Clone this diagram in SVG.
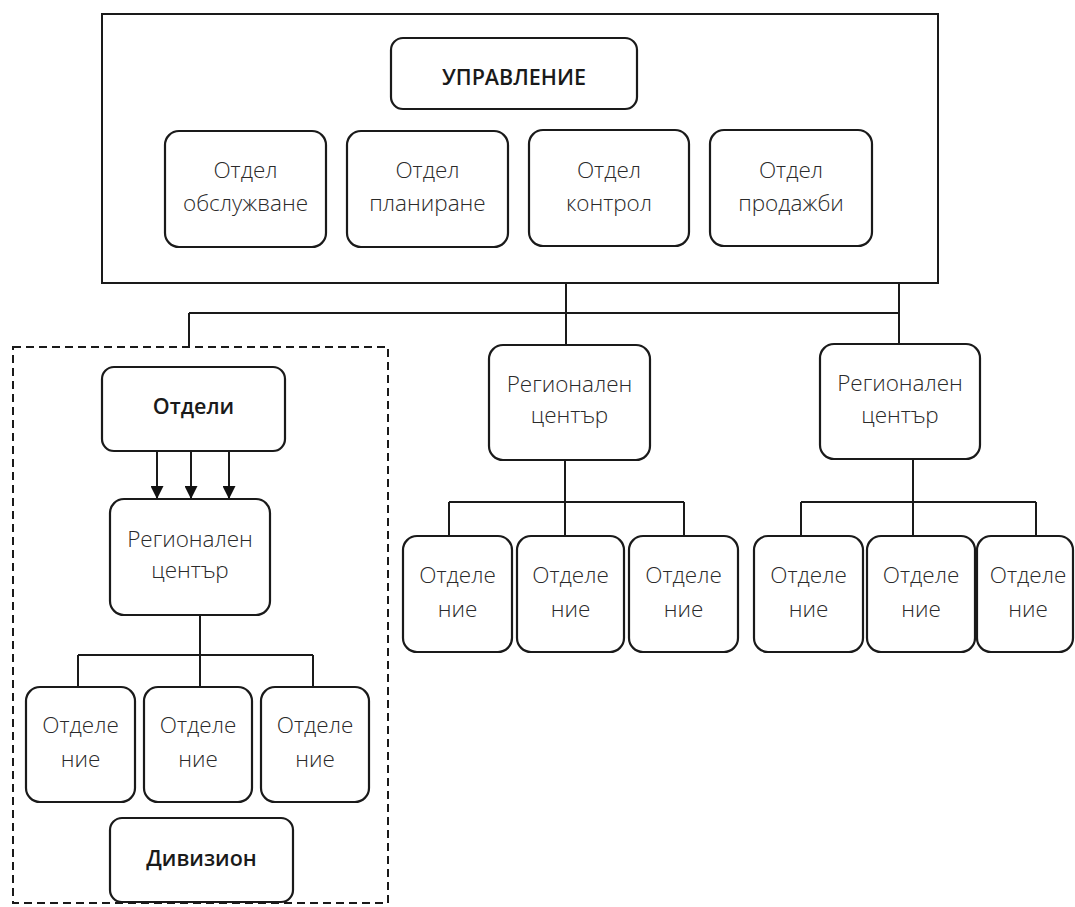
<svg xmlns="http://www.w3.org/2000/svg" width="1075" height="907" viewBox="0 0 1075 907">
<style>
.box{fill:#fff;stroke:#1a1a1a;stroke-width:2}
.rbox{fill:#fff;stroke:#1a1a1a;stroke-width:2.2}
.dash{fill:none;stroke:#1a1a1a;stroke-width:2;stroke-dasharray:8 5}
.ln{fill:none;stroke:#1a1a1a;stroke-width:2}
text{font-family:"Open Sans","Noto Sans","DejaVu Sans",sans-serif;font-size:22.5px;fill:#2a2a2a;text-anchor:middle;font-weight:300}
.b{font-weight:600;font-size:21.5px;fill:#1a1a1a}
</style>
<defs>
<marker id="ah" markerWidth="13" markerHeight="13" refX="12" refY="6.5" orient="auto" markerUnits="userSpaceOnUse">
<path d="M0,0 L13,6.5 L0,13 Z" fill="#111"/>
</marker>
</defs>
<rect width="1075" height="907" fill="#fff"/>
<g id="management-frame"><rect class="box" x="102" y="14" width="836" height="269"/></g>
<g id="division-frame"><rect class="dash" x="13" y="347" width="375" height="556"/></g>
<g id="connectors">
<path class="ln" d="M566,283 V345 M899,283 V344 M189,313 H899 M189,313 V347"/>
<path class="ln" d="M200,615 V655 M78,655 H313 M78,655 V687 M200,655 V687 M313,655 V687"/>
<path class="ln" d="M565,460 V502 M449,502 H684 M449,502 V536 M565,502 V536 M684,502 V536"/>
<path class="ln" d="M913,459 V502 M801,502 H1036 M801,502 V536 M913,502 V536 M1036,502 V536"/>
<line class="ln" x1="157" y1="451" x2="157" y2="498" marker-end="url(#ah)"/>
<line class="ln" x1="191" y1="451" x2="191" y2="498" marker-end="url(#ah)"/>
<line class="ln" x1="229" y1="451" x2="229" y2="498" marker-end="url(#ah)"/>
</g>
<g id="upravlenie"><rect class="rbox" x="391" y="38" width="246" height="71" rx="12"/><text class="b" x="514" y="85">УПРАВЛЕНИЕ</text></g>
<g id="otdel-obsluzhvane"><rect class="rbox" x="165" y="131" width="161" height="116" rx="14"/><text x="245.5" y="178">Отдел</text><text x="245.5" y="211">обслужване</text></g>
<g id="otdel-planirane"><rect class="rbox" x="347" y="131" width="161" height="116" rx="14"/><text x="427.5" y="178">Отдел</text><text x="427.5" y="211">планиране</text></g>
<g id="otdel-kontrol"><rect class="rbox" x="529" y="130" width="160" height="116" rx="14"/><text x="609" y="178">Отдел</text><text x="609" y="211">контрол</text></g>
<g id="otdel-prodazhbi"><rect class="rbox" x="710" y="130" width="162" height="116" rx="14"/><text x="791" y="178">Отдел</text><text x="791" y="211">продажби</text></g>
<g id="otdeli"><rect class="rbox" x="102" y="367" width="183" height="84" rx="12"/><text class="b" x="193.5" y="414">Отдели</text></g>
<g id="reg-left"><rect class="rbox" x="110" y="499" width="160" height="116" rx="14"/><text x="190" y="547">Регионален</text><text x="190" y="578">център</text></g>
<g id="otd-l1"><rect class="rbox" x="26" y="687" width="109" height="115" rx="14"/><text x="80.5" y="733">Отделе</text><text x="80.5" y="767">ние</text></g>
<g id="otd-l2"><rect class="rbox" x="144" y="687" width="108" height="115" rx="14"/><text x="198" y="733">Отделе</text><text x="198" y="767">ние</text></g>
<g id="otd-l3"><rect class="rbox" x="261" y="687" width="108" height="115" rx="14"/><text x="315" y="733">Отделе</text><text x="315" y="767">ние</text></g>
<g id="divizion"><rect class="rbox" x="110" y="818" width="183" height="84" rx="12"/><text class="b" x="201.5" y="866">Дивизион</text></g>
<g id="reg-mid"><rect class="rbox" x="489" y="345" width="161" height="115" rx="14"/><text x="569.5" y="392">Регионален</text><text x="569.5" y="423">център</text></g>
<g id="otd-m1"><rect class="rbox" x="403" y="536" width="109" height="116" rx="14"/><text x="457.5" y="583">Отделе</text><text x="457.5" y="617">ние</text></g>
<g id="otd-m2"><rect class="rbox" x="517" y="536" width="107" height="116" rx="14"/><text x="570.5" y="583">Отделе</text><text x="570.5" y="617">ние</text></g>
<g id="otd-m3"><rect class="rbox" x="629" y="536" width="109" height="116" rx="14"/><text x="683.5" y="583">Отделе</text><text x="683.5" y="617">ние</text></g>
<g id="reg-right"><rect class="rbox" x="820" y="344" width="160" height="115" rx="14"/><text x="900" y="391">Регионален</text><text x="900" y="423">център</text></g>
<g id="otd-r1"><rect class="rbox" x="754" y="536" width="109" height="116" rx="14"/><text x="808.5" y="583">Отделе</text><text x="808.5" y="617">ние</text></g>
<g id="otd-r2"><rect class="rbox" x="867" y="536" width="108" height="116" rx="14"/><text x="921" y="583">Отделе</text><text x="921" y="617">ние</text></g>
<g id="otd-r3"><rect class="rbox" x="977" y="536" width="96" height="116" rx="14"/><text x="1028" y="583">Отделе</text><text x="1028" y="617">ние</text></g>
</svg>
